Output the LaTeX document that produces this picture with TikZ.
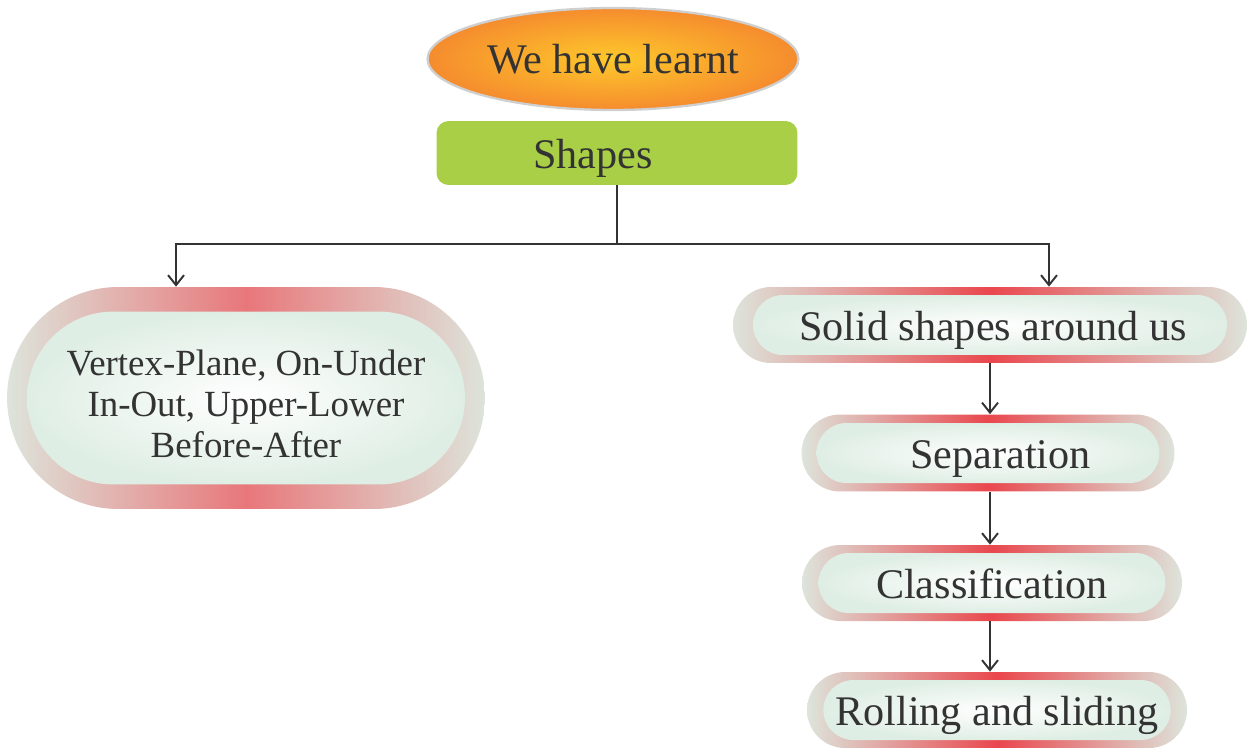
\documentclass[tikz,border=0pt]{standalone}
\usepackage{tikz}
\usetikzlibrary{shapes.geometric, shapes.misc, arrows.meta, positioning, calc}
\usepackage{xcolor}
\usepackage{fontspec}
\setmainfont{Liberation Serif}
\definecolor{learnorange}{HTML}{F58C2E}
\definecolor{learnyellow}{HTML}{FEC82B}
\definecolor{shapegreen}{HTML}{A9CF46}
\definecolor{edgegray}{HTML}{CFCFCF}
\definecolor{ringred}{HTML}{E9474D}
\definecolor{ringsoft}{HTML}{E8777A}
\definecolor{ringpale}{HTML}{DDE4DB}
\definecolor{pillmint}{HTML}{DFEEE4}
\definecolor{ink}{HTML}{333333}

\begin{document}
\begin{tikzpicture}[
    x=0.02cm, y=-0.02cm,
    every node/.style={font=\fontsize{24}{28}\selectfont, text=ink},
    oneline/.style={text height=0.78cm, text depth=0.18cm},
    title/.style={ellipse, shade, inner color=learnyellow, outer color=learnorange, draw=edgegray, line width=1.3pt, minimum width=7.42cm, minimum height=2.04cm, inner sep=0pt, oneline},
    topic/.style={rectangle, fill=shapegreen, rounded corners=0.24cm, minimum width=7.22cm, minimum height=1.28cm, inner sep=0pt, oneline},
    ring/.style={rounded rectangle, shade, left color=ringpale, right color=ringpale, middle color=ringred, minimum height=1.52cm, inner sep=0pt},
    pill/.style={rounded rectangle, shade, inner color=white, outer color=pillmint, minimum height=1.2cm, inner sep=0pt},
    arrow/.style={-{Straight Barb[length=2mm, width=3.2mm]}, line width=1.1pt, draw=ink}
]
    \useasboundingbox (0,0) rectangle (1250,747);

    \node[title] (learnt) at (613,59) {We have learnt};
    \node[topic] (shapes) at (617,153) {\hspace*{-0.96cm}Shapes};

    % left branch
    \node[ring, middle color=ringsoft, minimum width=9.56cm, minimum height=4.44cm] (leftring) at (246,398) {};
    \node[pill, minimum width=8.76cm, minimum height=3.46cm, align=center, font=\fontsize{21}{23.5}\selectfont] (pairs) at (leftring) {\rule{0pt}{0.74cm}Vertex-Plane, On-Under\\In-Out, Upper-Lower\\Before-After};

    % right branch
    \node[ring, minimum width=10.28cm] (solidring) at (990,325) {};
    \node[pill, oneline, minimum width=9.48cm] (solid) at (solidring) {\hspace*{0.12cm}Solid shapes around us};
    \node[ring, minimum width=7.46cm, minimum height=1.54cm] (sepring) at (988,453) {};
    \node[pill, oneline, minimum width=6.86cm] (sep) at (sepring) {\hspace*{0.5cm}Separation};
    \node[ring, minimum width=7.6cm] (classring) at (992,583) {};
    \node[pill, oneline, minimum width=6.94cm] (class) at (classring) {Classification};
    \node[ring, minimum width=7.6cm] (rollring) at (997,710) {};
    \node[pill, oneline, minimum width=6.94cm] (roll) at (rollring) {Rolling and sliding};

    \draw[line width=1.1pt, draw=ink] (shapes.south) -- ++(0,59) coordinate (split);
    \draw[arrow] (split) -| ([xshift=-1.4cm]leftring.north);
    \draw[arrow] (split) -| ([xshift=1.18cm]solidring.north);

    \draw[arrow] (solidring.south) -- (solidring.south |- sepring.north);
    \draw[arrow] (solidring.south |- sepring.south) -- (solidring.south |- classring.north);
    \draw[arrow] (solidring.south |- classring.south) -- (solidring.south |- rollring.north);
\end{tikzpicture}
\end{document}
